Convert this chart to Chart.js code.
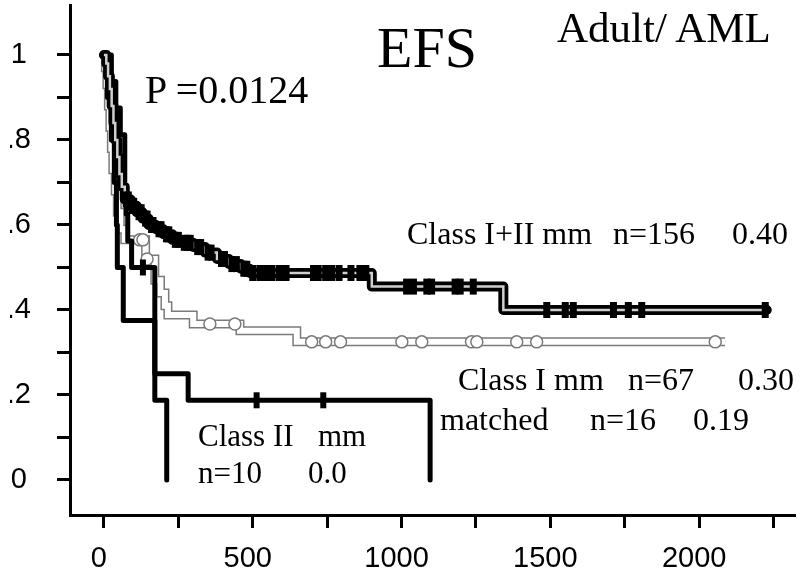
<!DOCTYPE html>
<html>
<head>
<meta charset="utf-8">
<script src="https://cdn.jsdelivr.net/npm/chart.js@4.4.1/dist/chart.umd.min.js"></script>
<style>
  body { margin: 0; background: #fff; }
  #wrap { position: relative; width: 802px; height: 586px; }
  .note { position: absolute; font-family: 'Liberation Serif', 'Times New Roman', serif; line-height: 1; white-space: pre; color: #000; }
</style>
</head>
<body>
<div id="wrap"><canvas id="efsChart" width="802" height="586"></canvas></div>
<script>
// Kaplan-Meier steps: event times (days) and survival after each step
const ciiTime = [0, 8, 14, 20, 26, 32, 38, 45, 52, 60, 70, 90, 110, 130, 150, 175, 200, 230, 260, 300, 340, 380, 420, 460, 490, 900, 1342];
const ciiSurv = [1, 0.98, 0.95, 0.92, 0.88, 0.84, 0.80, 0.76, 0.72, 0.69, 0.66, 0.645, 0.63, 0.615, 0.60, 0.59, 0.578, 0.565, 0.558, 0.548, 0.535, 0.52, 0.508, 0.497, 0.487, 0.455, 0.40];
const ciiEnd = 2227;
const ciiCensor = [75, 82, 95, 100, 118, 125, 140, 145, 160, 165, 185, 192, 210, 218, 240, 250, 270, 280, 290, 315, 325, 350, 360, 395, 405, 430, 445, 470, 480,
  500, 524, 545, 565, 590, 612, 704, 720, 745, 765, 790, 830, 860, 880,
  1017, 1040, 1085, 1101, 1180, 1197, 1241,
  1488, 1550, 1577, 1712, 1762, 1807, 2222];

const c1Time = [0, 5, 10, 15, 20, 25, 30, 38, 45, 55, 70, 140, 171, 190, 205, 215, 300, 457, 648];
const c1Surv = [1, 0.97, 0.93, 0.88, 0.83, 0.78, 0.73, 0.68, 0.63, 0.59, 0.565, 0.52, 0.47, 0.44, 0.41, 0.388, 0.367, 0.351, 0.325];
const c1End = 2087;
const c1Censor = [120, 131, 145, 356, 440, 698, 745, 795, 1001, 1068, 1235, 1253, 1387, 1454, 2054];

const matchTime = [0, 25, 40, 55, 70, 75, 80, 93, 171, 283, 1096];
const matchSurv = [1, 0.9375, 0.875, 0.8125, 0.6875, 0.625, 0.5625, 0.5, 0.25, 0.1875, 0];
const matchCensor = [131, 513, 737];

const c2Time = [0, 12, 25, 35, 42, 45, 65, 171, 211];
const c2Surv = [1, 0.9, 0.8, 0.7, 0.6, 0.5, 0.375, 0.1875, 0];

const xTickValues = [0, 250, 500, 750, 1000, 1250, 1500, 1750, 2000, 2250];
const xTickLabels = ['0', '', '500', '', '1000', '', '1500', '', '2000', ''];
const yTickValues = [0, 0.1, 0.2, 0.3, 0.4, 0.5, 0.6, 0.7, 0.8, 0.9, 1];
const yTickLabels = ['0', '', '.2', '', '.4', '', '.6', '', '.8', '', '1'];

// text on the plot: [text, left, baseline, font size]
const notes = [
  ['EFS', 377, 68, 58],
  ['Adult/ AML', 557, 42, 43],
  ['P =0.0124', 145, 103, 40],
  ['Class I+II mm', 407, 244, 32], ['n=156', 613, 244, 32], ['0.40', 732, 244, 32],
  ['Class I mm', 458, 390, 32], ['n=67', 628, 390, 32], ['0.30', 738, 390, 32],
  ['matched', 440, 430, 32], ['n=16', 590, 430, 32], ['0.19', 693, 430, 32],
  ['Class II', 198, 446, 31], ['mm', 318, 446, 31],
  ['n=10', 198, 483, 31], ['0.0', 308, 483, 31]
];

function steps(times, surv, end) {
  const pts = [{ x: times[0], y: surv[0] }];
  for (let i = 1; i < times.length; i++) {
    pts.push({ x: times[i], y: surv[i - 1] }, { x: times[i], y: surv[i] });
  }
  if (end !== undefined) pts.push({ x: end, y: surv[surv.length - 1] });
  return pts;
}
function survAt(times, surv, t) {
  let s = surv[0];
  for (let i = 0; i < times.length; i++) if (times[i] <= t) s = surv[i];
  return s;
}
const censorPts = (times, surv, list) => list.map(t => ({ x: t, y: survAt(times, surv, t) }));

// keep label padding from pushing the plot area inwards
function noEdgePadding(axis) {
  axis.paddingTop = 0; axis.paddingBottom = 0; axis.paddingLeft = 0; axis.paddingRight = 0;
}

const tickFont = { family: "'Liberation Sans Narrow', 'Liberation Sans', Arial, sans-serif", size: 29 };

new Chart(document.getElementById('efsChart'), {
  type: 'line',
  data: {
    datasets: [
      { label: 'Class I mm edge', data: steps(c1Time, c1Surv, c1End), borderColor: '#7a7a7a', borderWidth: 9, pointRadius: 0, order: 10 },
      { label: 'Class I mm', data: steps(c1Time, c1Surv, c1End), borderColor: '#ffffff', borderWidth: 6, pointRadius: 0, order: 9 },
      { label: 'Class I censored', data: censorPts(c1Time, c1Surv, c1Censor), showLine: false, pointStyle: 'circle', pointRadius: 6,
        pointBorderWidth: 1.5, pointBorderColor: '#7a7a7a', pointBackgroundColor: '#ffffff', order: 8 },
      { label: 'Class II mm', data: steps(c2Time, c2Surv), borderColor: '#000', borderWidth: 5, borderJoinStyle: 'round', borderCapStyle: 'round', pointRadius: 0, order: 7 },
      { label: 'matched', data: steps(matchTime, matchSurv), borderColor: '#000', borderWidth: 5, borderJoinStyle: 'round', borderCapStyle: 'round', pointRadius: 0, order: 6 },
      { label: 'matched censored', data: censorPts(matchTime, matchSurv, matchCensor), showLine: false, pointStyle: 'line', pointRotation: 90,
        pointRadius: 8, pointBorderWidth: 6, pointBorderColor: '#000', order: 5 },
      { label: 'Class I+II mm edge', data: steps(ciiTime, ciiSurv, ciiEnd), borderColor: '#000', borderWidth: 10, borderJoinStyle: 'round', borderCapStyle: 'round', pointRadius: 0, order: 4 },
      { label: 'Class I+II mm', data: steps(ciiTime, ciiSurv, ciiEnd), borderColor: '#cfcfcf', borderWidth: 2.5, pointRadius: 0, order: 3 },
      { label: 'Class I+II censored', data: censorPts(ciiTime, ciiSurv, ciiCensor), showLine: false, pointStyle: 'line', pointRotation: 90,
        pointRadius: 8, pointBorderWidth: 7, pointBorderColor: '#000', order: 2 }
    ]
  },
  options: {
    responsive: false,
    animation: false,
    devicePixelRatio: 1,
    layout: { autoPadding: false, padding: { left: 10, top: 5, right: 7, bottom: 0 } },
    plugins: { legend: { display: false }, tooltip: { enabled: false } },
    scales: {
      x: {
        type: 'linear', min: -114, max: 2322,
        afterBuildTicks: axis => { axis.ticks = xTickValues.map(v => ({ value: v })); },
        afterFit: axis => { axis.height = 71; noEdgePadding(axis); },
        grid: { drawOnChartArea: false, tickLength: 13, tickWidth: 3, tickColor: '#000' },
        border: { display: true, color: '#000', width: 3 },
        ticks: { autoSkip: false, maxRotation: 0, padding: 14, labelOffset: -5, color: '#000', font: tickFont,
          callback: (v, i) => xTickLabels[i] }
      },
      y: {
        type: 'linear', min: -0.0824, max: 1.1176,
        afterBuildTicks: axis => { axis.ticks = yTickValues.map(v => ({ value: v })); },
        afterFit: axis => { axis.width = 60; noEdgePadding(axis); },
        grid: { drawOnChartArea: false, tickLength: 13, tickWidth: 3, tickColor: '#000' },
        border: { display: true, color: '#000', width: 3 },
        ticks: { autoSkip: false, padding: 26, crossAlign: 'center', color: '#000', font: tickFont,
          callback: (v, i) => yTickLabels[i] }
      }
    }
  }
});

const wrap = document.getElementById('wrap');
notes.forEach(([text, left, base, size]) => {
  const el = document.createElement('div');
  el.className = 'note';
  el.textContent = text;
  el.style.fontSize = size + 'px';
  el.style.left = left + 'px';
  el.style.top = (base - 0.8375 * size) + 'px';
  wrap.appendChild(el);
});
</script>
</body>
</html>
